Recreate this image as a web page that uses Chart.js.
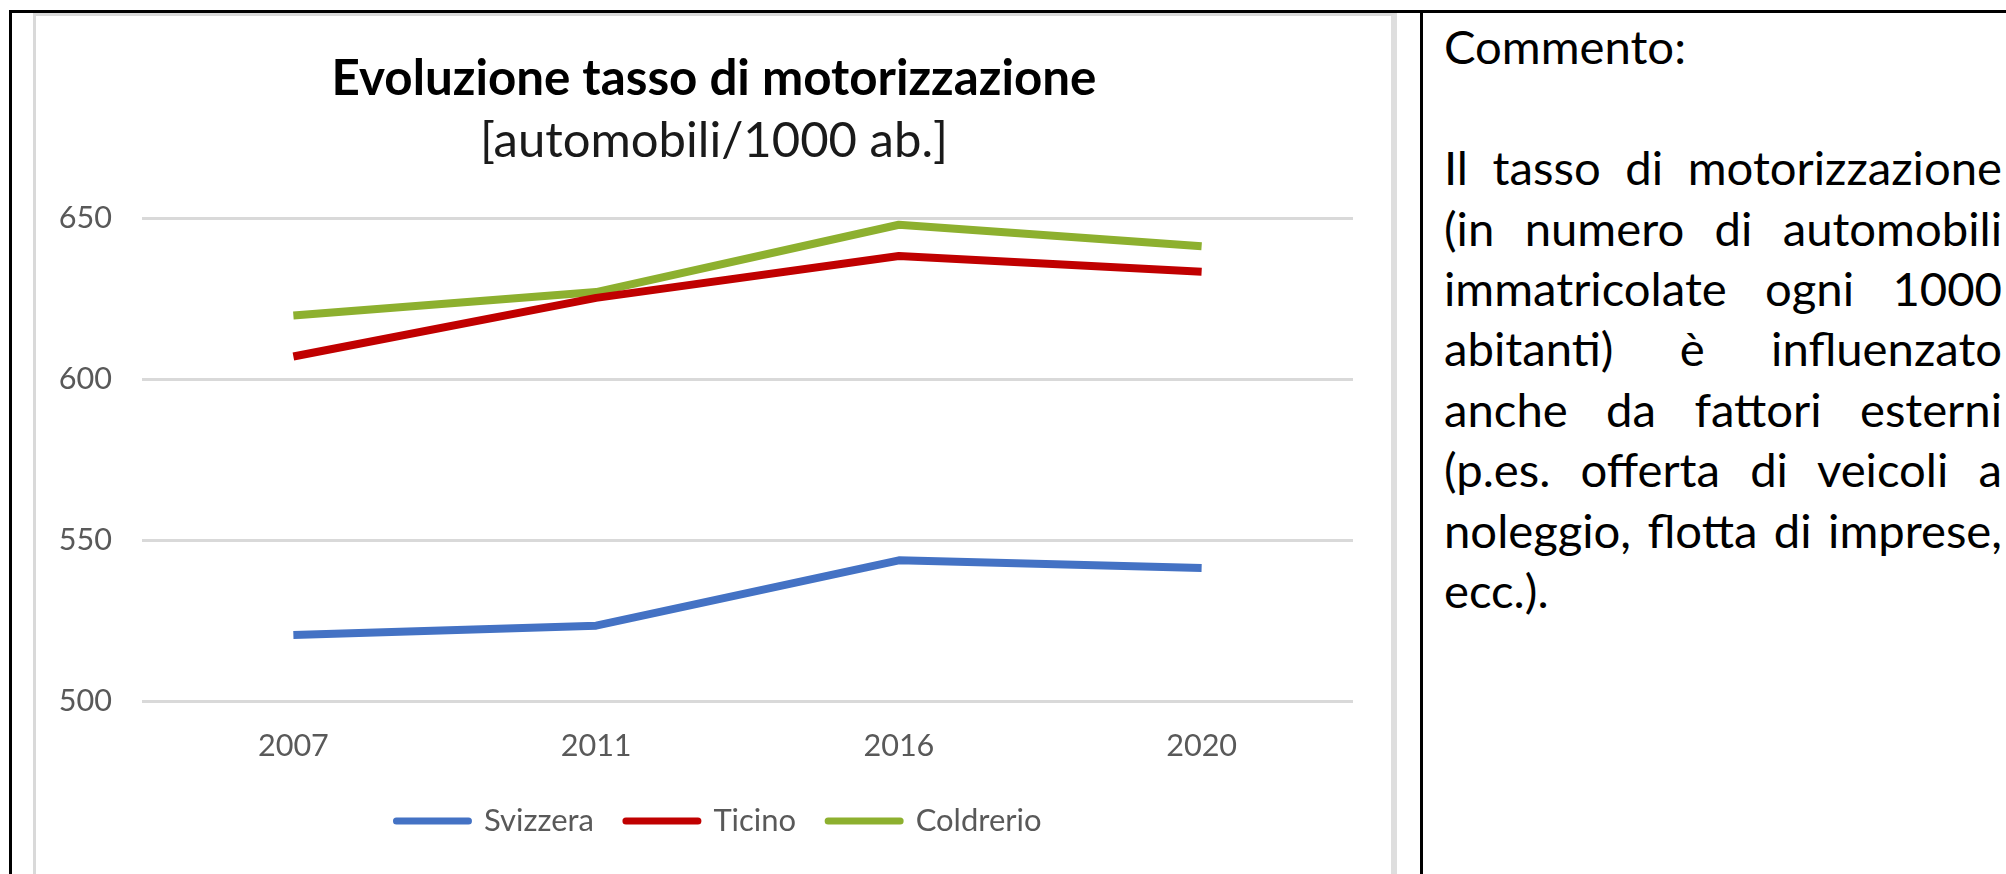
<!DOCTYPE html>
<html lang="it">
<head>
<meta charset="utf-8">
<title>Evoluzione tasso di motorizzazione</title>
<script src="https://cdn.jsdelivr.net/npm/chart.js"></script>
<style>
  html, body { margin:0; padding:0; background:#fff; }
  body { width:2006px; height:874px; position:relative; overflow:hidden; font-family: Lato, "Open Sans", sans-serif; }
  .rule { position:absolute; background:#000; }
  #frame { position:absolute; left:33px; top:13px; width:1364px; height:880px; box-sizing:border-box;
           border:3px solid #d9d9d9; border-right:6px solid #dedede; }
  #plot { position:absolute; left:36px; top:16px; width:1355px; height:858px; }
  #comment { position:absolute; left:1444px; width:558px; color:#000; }
  #comment .j { text-align:justify; text-align-last:justify; }
</style>
</head>
<body>
<div class="rule" style="left:9px;top:10px;width:1997px;height:3px"></div>
<div class="rule" style="left:9px;top:10px;width:3px;height:864px"></div>
<div class="rule" style="left:1420px;top:10px;width:3px;height:864px"></div>
<div id="frame"></div>
<div id="plot"><canvas id="c"></canvas></div>
<div id="comment"></div>
<script>
// ---- data ----
const categories = ['2007', '2011', '2016', '2020'];
const svizzera  = [520.5, 523.4, 543.7, 541.3];
const ticino    = [607.0, 625.2, 638.2, 633.3];
const coldrerio = [619.7, 627.0, 647.9, 641.2];
const yTicks = [500, 550, 600, 650];
const seriesNames = ['Svizzera', 'Ticino', 'Coldrerio'];
const seriesColors = ['#4472C4', '#C00000', '#8DB02F'];
const titleText = 'Evoluzione tasso di motorizzazione';
const subtitleText = '[automobili/1000 ab.]';
const commentHeading = 'Commento:';
const commentLines = [
  'Il tasso di motorizzazione',
  '(in numero di automobili',
  'immatricolate ogni 1000',
  'abitanti) è influenzato',
  'anche da fattori esterni',
  '(p.es. offerta di veicoli a',
  'noleggio, flotta di imprese,',
  'ecc.).'
];

// ---- font fitting helpers ----
const FAM = 'Lato';
const mc = document.createElement('canvas').getContext('2d');
function sizeFor(text, weight, target) {
  mc.font = weight + ' 100px ' + FAM;
  return 100 * target / mc.measureText(text).width;
}
function baseOff(size, weight, sample) {
  mc.font = weight + ' ' + size + 'px ' + FAM;
  mc.textBaseline = 'alphabetic';
  const a = mc.measureText(sample).actualBoundingBoxAscent;
  mc.textBaseline = 'middle';
  const b = mc.measureText(sample).actualBoundingBoxAscent;
  mc.textBaseline = 'alphabetic';
  return a - b;
}

const T = sizeFor(titleText, 'bold', 765);
const S = sizeFor(subtitleText, 'normal', 468);
const F = sizeFor('2007', 'normal', 71);
const L = sizeFor('Svizzera', 'normal', 110);

const W = 1355, H = 858;
const AREA_TOP = 202, AREA_BOTTOM = 685, AREA_LEFT = 106, AREA_RIGHT = 1317;
const PAD_L = 0, PAD_R = W - AREA_RIGHT;
const TITLE_CX = 678, LEGEND_CX = 683;

const M1 = 79 - baseOff(T, 'bold', 'E');
const M2 = 141 - baseOff(S, 'normal', '1');
const M3 = 740 - baseOff(F, 'normal', '2');
const M4 = 815 - baseOff(L, 'normal', 'S');

const tPadTop = M1 - T / 2;
const tPadBot = (M2 - S / 2) - (tPadTop + T);
const sPadBot = AREA_TOP - (M2 + S / 2);
const tickPad = M3 - AREA_BOTTOM - F / 2;
const legPad = 32;
const legTop = M4 - legPad - L / 2;
const xAxisH = legTop - AREA_BOTTOM;
const padBottom = H - (legTop + L + legPad + 10);

const seriesValues = [svizzera, ticino, coldrerio];

// recentre the title, subtitle and legend boxes horizontally (as in the original)
const recentre = {
  id: 'recentre',
  afterLayout(chart) {
    const move = (box, cx) => {
      if (!box) return;
      const d = cx - (box.left + box.right) / 2;
      box.left += d; box.right += d;
    };
    move(chart.titleBlock, TITLE_CX);
    const sub = chart.boxes.find(b => b !== chart.titleBlock && b.options && b.options.text === subtitleText);
    move(sub, TITLE_CX);
    move(chart.legend, LEGEND_CX);
  }
};

new Chart(document.getElementById('c'), {
  type: 'line',
  data: {
    labels: categories,
    datasets: seriesNames.map((name, i) => ({
      label: name,
      data: seriesValues[i],
      borderColor: seriesColors[i],
      backgroundColor: seriesColors[i],
      borderWidth: 8,
      pointRadius: 0,
      pointHoverRadius: 0,
      tension: 0,
      fill: false,
      borderJoinStyle: 'round',
      borderCapStyle: 'butt'
    }))
  },
  plugins: [recentre],
  options: {
    responsive: true,
    maintainAspectRatio: false,
    animation: false,
    devicePixelRatio: 1,
    layout: { padding: { left: PAD_L, right: PAD_R, top: 0, bottom: padBottom } },
    plugins: {
      title: {
        display: true, text: titleText, color: '#000',
        font: { family: FAM, weight: 'bold', size: T, lineHeight: 1 },
        padding: { top: tPadTop, bottom: tPadBot }
      },
      subtitle: {
        display: true, text: subtitleText, color: '#1a1a1a',
        font: { family: FAM, weight: 'normal', size: S, lineHeight: 1 },
        padding: { top: 0, bottom: sPadBot }
      },
      legend: {
        position: 'bottom',
        labels: {
          usePointStyle: true,
          pointStyle: 'line',
          pointStyleWidth: 72,
          padding: legPad,
          color: '#595959',
          font: { family: FAM, size: L },
          generateLabels(chart) {
            return Chart.defaults.plugins.legend.labels.generateLabels(chart)
              .map(it => Object.assign(it, { lineCap: 'round', lineWidth: 7 }));
          }
        }
      },
      tooltip: { enabled: false }
    },
    scales: {
      x: {
        offset: true,
        grid: { display: false, drawTicks: false },
        border: { display: false },
        ticks: { color: '#595959', padding: tickPad, maxRotation: 0,
                 font: { family: FAM, size: F, lineHeight: 1 } },
        afterFit(s) { s.height = xAxisH; }
      },
      y: {
        min: yTicks[0],
        max: yTicks[yTicks.length - 1],
        grid: { color: '#d9d9d9', lineWidth: 3, drawTicks: false },
        border: { display: false },
        ticks: { stepSize: yTicks[1] - yTicks[0], color: '#595959', padding: 30,
                 font: { family: FAM, size: F, lineHeight: 1 } },
        afterFit(s) { s.width = AREA_LEFT - PAD_L; }
      }
    }
  }
});

// ---- comment text ----
(function () {
  const box = document.getElementById('comment');
  let CS = sizeFor(commentHeading, 'normal', 242);
  commentLines.slice(0, -1).forEach(l => { CS = Math.min(CS, sizeFor(l, 'normal', 552)); });
  mc.font = CS + 'px ' + FAM;
  const fm = mc.measureText(commentHeading);
  const A = fm.fontBoundingBoxAscent, D = fm.fontBoundingBoxDescent;
  const LH = 60.4;
  box.style.fontSize = CS + 'px';
  box.style.lineHeight = LH + 'px';
  box.style.top = (65 - ((LH - (A + D)) / 2 + A)) + 'px';
  const add = (txt, cls) => {
    const d = document.createElement('div');
    if (cls) d.className = cls;
    d.textContent = txt;
    if (!txt) d.style.height = LH + 'px';
    box.appendChild(d);
  };
  add(commentHeading);
  add('');
  commentLines.forEach((l, i) => add(l, i < commentLines.length - 1 ? 'j' : ''));
})();
</script>
</body>
</html>
